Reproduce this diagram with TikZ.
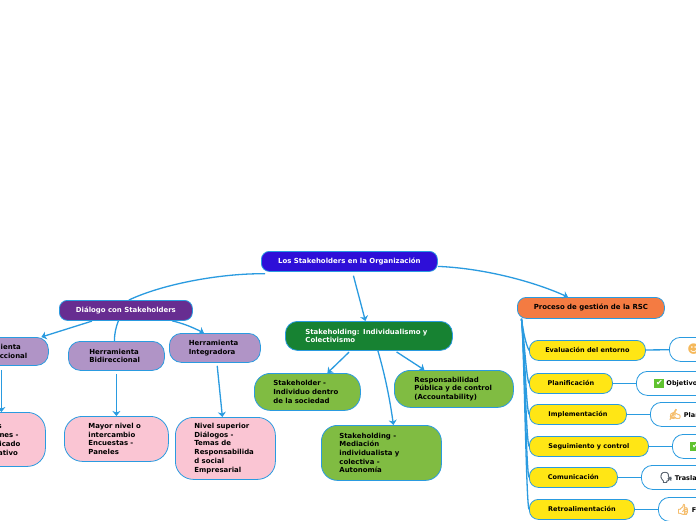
\documentclass[tikz,border=0pt]{standalone}
\usepackage{fontspec}
\setmainfont{DejaVu Sans}
\newfontfamily\emojifont[FakeBold=4]{Noto Emoji}
\usetikzlibrary{arrows.meta}
\definecolor{linkblue}{HTML}{2A9BE0}
\definecolor{rootblue}{HTML}{2E0FD8}
\definecolor{dialpurple}{HTML}{672D91}
\definecolor{toolmauve}{HTML}{B094C6}
\definecolor{softpink}{HTML}{FAC5D3}
\definecolor{deepgreen}{HTML}{178232}
\definecolor{leafgreen}{HTML}{80BC42}
\definecolor{procorange}{HTML}{F47B42}
\definecolor{stepyellow}{HTML}{FFE615}
\definecolor{tickgreen}{HTML}{5FC22F}
\definecolor{handtan}{HTML}{F5BE6E}
\definecolor{faceamber}{HTML}{F5B85A}
\definecolor{headgray}{HTML}{5A6470}
\newcommand{\emojiglyph}[2]{\textcolor{#1}{\fontsize{10.5}{10.5}\selectfont\emojifont\symbol{#2}}}
\newcommand{\tickbox}{{\setlength{\fboxsep}{1.6pt}\colorbox{tickgreen}{\textcolor{white}{\fontsize{8}{8}\selectfont\symbol{"2714}}}}}

\begin{document}
\begin{tikzpicture}[
    x=1pt, y=-1pt,
    topic/.style={draw=linkblue, line width=0.8pt, rounded corners=#1, font=\bfseries\fontsize{6.95}{8.7}\selectfont,
        align=left, inner sep=0pt, anchor=north west, execute at begin node={\hyphenpenalty=10000\exhyphenpenalty=10000}},
    root topic/.style={topic=8pt, fill=rootblue, text=white, align=center},
    dial topic/.style={topic=8pt, fill=dialpurple, text=white, align=center},
    tool topic/.style={topic=12pt, fill=toolmauve},
    pink topic/.style={topic=18pt, fill=softpink},
    main topic/.style={topic=12pt, fill=deepgreen, text=white},
    leaf topic/.style={topic=16pt, fill=leafgreen},
    proc topic/.style={topic=9pt, fill=procorange, align=center},
    step topic/.style={topic=9pt, fill=stepyellow, align=center, font=\bfseries\fontsize{6.5}{8}\selectfont},
    note topic/.style={topic=11pt, fill=white, font=\bfseries\fontsize{6.5}{8}\selectfont, inner xsep=18pt},
    link/.style={draw=linkblue, line width=1.3pt},
    arrow link/.style={link, -{Stealth[length=5pt,width=8pt,inset=1.5pt]}},
    >=stealth
]
\clip (0,0) rectangle (696,520);
\fill[white] (0,0) rectangle (696,520);

% Central topic
\node[root topic, minimum width=176pt, minimum height=20pt] (root) at (261,251) {Los Stakeholders en la Organización};

% Left branch
\node[dial topic, minimum width=133pt, minimum height=20pt] (dial) at (59,300) {Diálogo con Stakeholders};
\node[tool topic, inner xsep=23pt, text width=54pt, minimum height=28pt] (tool-1) at (-52,337) {Herramienta\\Unidireccional};
\node[tool topic, inner xsep=21pt, text width=54pt, minimum height=29pt] (tool-2) at (68,341) {Herramienta\\Bidireccional};
\node[tool topic, inner xsep=19.5pt, text width=52pt, minimum height=29pt] (tool-3) at (169,333) {Herramienta\\Integradora};
\node[pink topic, inner xsep=24pt, text width=49pt, minimum height=54pt] (pink-1) at (-52,412) {Charlas\\Reuniones -\\Comunicado\\informativo};
\node[pink topic, inner xsep=24pt, text width=56pt, minimum height=45pt] (pink-2) at (64,416) {Mayor nivel o\\intercambio\\Encuestas -\\Paneles};
\node[pink topic, inner xsep=19pt, text width=62pt, minimum height=62pt] (pink-3) at (175,417) {Nivel superior\\Diálogos -\\Temas de\\Responsabilida\\d social\\Empresarial};

% Middle branch
\node[main topic, inner xsep=20pt, text width=127pt, minimum height=29pt] (main) at (285,321) {Stakeholding: Individualismo y\\Colectivismo};
\node[leaf topic, inner xsep=19pt, text width=68pt, minimum height=37pt] (leaf-1) at (254,373) {Stakeholder -\\Individuo dentro\\de la sociedad};
\node[leaf topic, inner xsep=20pt, text width=79pt, minimum height=37pt] (leaf-2) at (394,370) {Responsabilidad\\Pública y de control\\(Accountability)};
\node[leaf topic, inner xsep=18pt, text width=84pt, minimum height=55pt] (leaf-3) at (321,425) {Stakeholding -\\Mediación\\individualista y\\colectiva -\\Autonomía};

% Right branch
\node[proc topic, minimum width=147pt, minimum height=21pt] (proc) at (517,297) {Proceso de gestión de la RSC};

\foreach \i/\w/\y/\name in {1/116/340/Evaluación del entorno, 2/83/373/Planificación, 3/97/404/Implementación,
        4/119/436/Seguimiento y control, 5/88/467/Comunicación, 6/105/499/Retroalimentación} {
    \node[step topic, minimum width=\w pt, minimum height=20pt] (step-\i) at (529,\y) {\name};
}

\node[note topic, text width=60pt, minimum height=24pt] (note-1) at (669,337) {\textcolor{faceamber}{\fontsize{12}{12}\selectfont\symbol{"263B}}};
\node[note topic, text width=70pt, minimum height=24pt] (note-2) at (636,371) {\tickbox\ Objetivos};
\node[note topic, text width=60pt, minimum height=24pt] (note-3) at (650,402) {\emojiglyph{handtan}{"270D} Planes};
\node[note topic, text width=60pt, minimum height=24pt] (note-4) at (672,434) {\tickbox};
\node[note topic, text width=70pt, minimum height=24pt] (note-5) at (641,465) {\emojiglyph{headgray}{"1F5E3} Trasladar};
\node[note topic, text width=60pt, minimum height=24pt] (note-6) at (658,497) {\emojiglyph{handtan}{"1F44D} Feedback};

% Connections: root
\draw[link] ([xshift=4pt,yshift=-2pt]root.south west) .. controls (225,273) and (165,283) .. ([xshift=3pt]dial.north);
\draw[arrow link, shorten <=4pt] ([xshift=3pt]root.south) -- ([xshift=-3.5pt]main.north);
\draw[arrow link] ([yshift=-5pt]root.east) .. controls (480,268) and (530,280) .. ([xshift=-23pt]proc.north);

% Connections: dial
\draw[arrow link, shorten <=1pt] ([xshift=-33pt]dial.south) -- ([xshift=43pt]tool-1.north);
\draw[link] ([xshift=-7.5pt]dial.south) .. controls (116,327) and (114.5,333) .. ([xshift=-2pt]tool-2.north);
\draw[arrow link] ([xshift=46pt]dial.south) .. controls (182,323) and (192,327) .. ([xshift=-11pt]tool-3.north);

% Connections: tools
\draw[arrow link, shorten <=4pt] ([xshift=3pt]tool-1.south) -- ([xshift=4.5pt]pink-1.north);
\draw[arrow link, shorten <=3pt] (tool-2.south) -- (pink-2.north);
\draw[arrow link, shorten <=3pt] ([xshift=2pt]tool-3.south) -- ([xshift=-3pt]pink-3.north);

% Connections: main
\draw[arrow link, shorten <=2pt] ([xshift=-18.5pt]main.south) -- ([xshift=20pt]leaf-1.north);
\draw[arrow link] ([xshift=9pt]main.south) .. controls (385,375) and (390,400) .. ([xshift=12pt]leaf-3.north);
\draw[arrow link, shorten <=2pt] ([xshift=26pt]main.south) -- ([xshift=-29.5pt]leaf-2.north);

% Connections: steps
\foreach \i in {1,...,6} {
    \draw[link] ([xshift=-69.5pt]proc.south) .. controls (524,336) and (526,{312+32*\i}) .. (step-\i.west);
    \draw[link] (step-\i) -- (note-\i);
}

\end{tikzpicture}
\end{document}
